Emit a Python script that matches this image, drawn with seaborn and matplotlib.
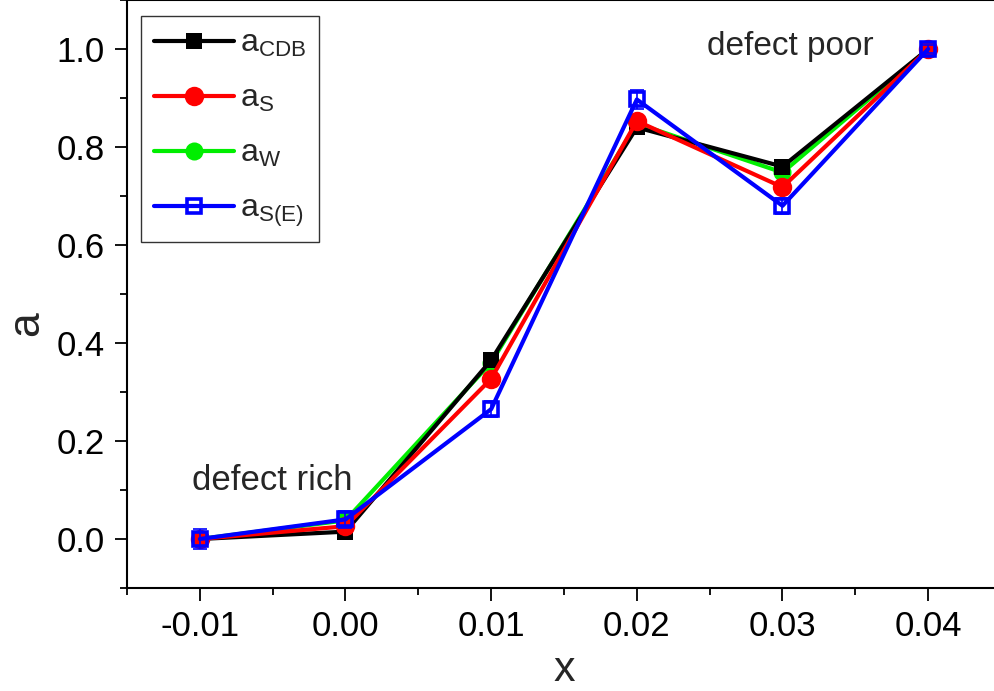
import numpy as np
import pandas as pd
import matplotlib
matplotlib.use("Agg")
import matplotlib.pyplot as plt
import seaborn as sns

x = [-0.01, 0.00, 0.01, 0.02, 0.03, 0.04]
a_cdb = [0.0, 0.015, 0.365, 0.840, 0.760, 1.0]
a_s = [0.0, 0.026, 0.327, 0.853, 0.718, 1.0]
a_w = [0.0, 0.038, 0.360, 0.848, 0.748, 1.0]
a_se = [0.0, 0.040, 0.265, 0.897, 0.680, 1.0]
a_se_err = [0.020, 0.017, 0.017, 0.019, 0.016, 0.008]
labels = [r"a$_{\mathregular{CDB}}$", r"a$_{\mathregular{S}}$", r"a$_{\mathregular{W}}$", r"a$_{\mathregular{S(E)}}$"]

sns.set_theme(style="ticks")
plt.rcParams["font.family"] = ["Liberation Sans", "DejaVu Sans"]
plt.rcParams["mathtext.fontset"] = "custom"
plt.rcParams["mathtext.rm"] = "Liberation Sans"
plt.rcParams["mathtext.it"] = "Liberation Sans"

fig = plt.figure(figsize=(9.94, 6.91), dpi=100)
ax = fig.add_axes([127/994, 1 - 588/691, (1001 - 127)/994, 588/691])

df = pd.DataFrame({"x": x, "cdb": a_cdb, "s": a_s, "w": a_w, "se": a_se})

lw = 3.0
sns.lineplot(data=df, x="x", y="w", ax=ax, color="#00ee00", linewidth=lw, marker="o",
             markersize=13, markeredgewidth=0, zorder=2, label=labels[2])
sns.lineplot(data=df, x="x", y="cdb", ax=ax, color="black", linewidth=lw, marker="s",
             markersize=12, markeredgewidth=0, zorder=3, label=labels[0])
sns.lineplot(data=df, x="x", y="s", ax=ax, color="red", linewidth=lw, marker="o",
             markersize=14, markeredgewidth=0, zorder=4, label=labels[1])
sns.lineplot(data=df, x="x", y="se", ax=ax, color="blue", linewidth=lw, marker="s",
             markersize=10, markerfacecolor="none", markeredgecolor="blue",
             markeredgewidth=2.6, zorder=5, label=labels[3])
ax.errorbar(x, a_se, yerr=a_se_err, fmt="none", ecolor="blue", elinewidth=1.2,
            capsize=5, capthick=1.2, zorder=5)

ax.set_xlim(-0.015, 0.045)
ax.set_ylim(-0.1, 1.1)
ax.set_xticks([-0.01, 0.00, 0.01, 0.02, 0.03, 0.04])
ax.set_xticklabels(["-0.01", "0.00", "0.01", "0.02", "0.03", "0.04"])
ax.set_xticks(np.arange(-0.015, 0.046, 0.005), minor=True)
ax.set_yticks([0.0, 0.2, 0.4, 0.6, 0.8, 1.0])
ax.set_yticklabels(["0.0", "0.2", "0.4", "0.6", "0.8", "1.0"])
ax.set_yticks(np.arange(-0.1, 1.11, 0.1), minor=True)
ax.tick_params(axis="both", which="major", direction="out", length=9, width=1.3,
               labelsize=25, pad=7, color="black", labelcolor="black")
ax.tick_params(axis="both", which="minor", direction="out", length=5, width=1.3, color="black")
for sp in ax.spines.values():
    sp.set_linewidth(1.5)
    sp.set_color("black")
    sp.set_visible(True)

ax.set_xlabel("x", fontsize=31, labelpad=5)
ax.set_ylabel("a", fontsize=32, va="center")
ax.yaxis.set_label_coords(-0.115, 0.45)

ax.text(-0.01056, 0.12, "defect rich", fontsize=25, ha="left", va="center")
ax.text(0.0248, 1.005, "defect poor", fontsize=24, ha="left", va="center")

handles, labs = ax.get_legend_handles_labels()
order = [labs.index(l) for l in labels]
leg = ax.legend([handles[i] for i in order], [labs[i] for i in order],
                loc="upper left", bbox_to_anchor=(14/874, 1 - 16/588),
                fontsize=23, frameon=True, fancybox=False, edgecolor="#333333",
                handlelength=2.5, handletextpad=0.2, labelspacing=0.78,
                borderpad=0.4, borderaxespad=0, framealpha=1)
leg.get_frame().set_linewidth(1.0)
leg.set_zorder(10)

fig.savefig("out.png", dpi=100)
